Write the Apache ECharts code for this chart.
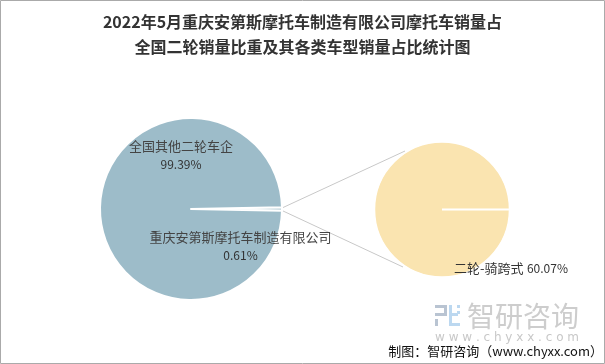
<!DOCTYPE html>
<html><head><meta charset="utf-8">
<script src="https://cdn.jsdelivr.net/npm/echarts@6/dist/echarts.min.js"></script>
<style>html,body{margin:0;padding:0;background:#fff}#c{width:605px;height:364px}</style>
</head><body><div id="c"></div>
<script>
// ---- data ----
const titleLines = ['2022年5月重庆安第斯摩托车制造有限公司摩托车销量占', '全国二轮销量比重及其各类车型销量占比统计图'];
const leftNames = ['重庆安第斯摩托车制造有限公司', '全国其他二轮车企'];
const leftValues = [0.61, 99.39];
const rightNames = ['二轮-骑跨式'];
const rightValues = [60.07];
const sourceText = '制图：智研咨询（www.chyxx.com）';
const brandText = '智研咨询';
const brandUrl = 'w w w . c h y x x . c o m';

// ---- layout ----
const LC = [191, 209], LR = 91;
const RC = [442, 209.5], RR = 67.5;
const leftColor = '#9dbcc9', rightColor = '#fae4b0';

const chart = echarts.init(document.getElementById('c'));

const leftData = leftNames.map((n, i) => ({ name: n, value: leftValues[i] }));
const rightData = rightNames.map((n, i) => ({ name: n, value: rightValues[i] }));

const labelPos = {
  '全国其他二轮车企': [181, 155],
  '重庆安第斯摩托车制造有限公司': [240.5, 246.5],
  '二轮-骑跨式': [511, 268.5]
};

chart.setOption({
  animation: false,
  title: {
    text: titleLines.join('\n'),
    left: 'center', top: 9, padding: 0,
    textStyle: { fontFamily: 'Noto Sans CJK SC', fontSize: 16, fontWeight: 'bold', color: '#333', lineHeight: 25 }
  },
  graphic: [
    { type: 'rect', shape: { x: 0.5, y: 0.5, width: 604, height: 363 }, style: { fill: 'none', stroke: '#aaa', lineWidth: 1 }, z: 100 },
    { type: 'line', shape: { x1: LC[0] + LR, y1: LC[1] - 1, x2: RC[0] - 37, y2: RC[1] - 58.5 }, style: { stroke: '#c8c8c8', lineWidth: 1 }, z: -1 },
    { type: 'line', shape: { x1: LC[0] + LR, y1: LC[1] + 1.5, x2: RC[0] - 39, y2: RC[1] + 57.5 }, style: { stroke: '#c8c8c8', lineWidth: 1 }, z: -1 },
    { type: 'line', shape: { x1: RC[0], y1: RC[1], x2: RC[0] + RR, y2: RC[1] }, style: { stroke: '#fff', lineWidth: 2 }, z: 10 },
    // watermark logo
    { type: 'group', left: 435, top: 305, z: 5, children: [
      { type: 'rect', shape: { x: 0, y: 0, width: 12, height: 3 }, style: { fill: '#b9c4d2' } },
      { type: 'rect', shape: { x: 9, y: 0, width: 3, height: 11 }, style: { fill: '#b9c4d2' } },
      { type: 'rect', shape: { x: 0, y: 8, width: 12, height: 3 }, style: { fill: '#b9c4d2' } },
      { type: 'rect', shape: { x: 0, y: 14, width: 3, height: 7 }, style: { fill: '#b9c4d2' } },
      { type: 'rect', shape: { x: 14, y: 0, width: 3, height: 21 }, style: { fill: '#bcd8f0' } },
      { type: 'rect', shape: { x: 17, y: 8, width: 6, height: 3 }, style: { fill: '#bcd8f0' } },
      { type: 'rect', shape: { x: 17, y: 18, width: 8, height: 3 }, style: { fill: '#bcd8f0' } },
      { type: 'rect', shape: { x: 22, y: 0, width: 3, height: 3 }, style: { fill: '#bcd8f0' } },
      { type: 'rect', shape: { x: 22, y: 6, width: 3, height: 3 }, style: { fill: '#bcd8f0' } }
    ]},
    { type: 'text', left: 467, top: 302, z: 5, style: { text: brandText, font: '28px "Noto Sans CJK SC"', fill: '#cdcdcd' } },
    { type: 'text', left: 435, top: 332, z: 5, style: { text: brandUrl, font: '12px "DejaVu Sans"', fill: '#c8c8c8' } },
    { type: 'text', right: 2, top: 345, z: 6, style: { text: sourceText, font: '13px "Noto Sans CJK SC"', fill: '#111' } }
  ],
  series: [
    {
      type: 'pie', center: LC, radius: LR, startAngle: 1.1, clockwise: true,
      itemStyle: { color: leftColor, borderColor: '#fff', borderWidth: 2 },
      label: {
        show: true, position: 'inside',
        formatter: '{n|{b}}\n{v|{c}%}',
        rich: {
          n: { fontFamily: 'Noto Sans CJK SC', fontSize: 13, color: '#444', lineHeight: 18, align: 'center' },
          v: { fontFamily: 'Noto Sans CJK SC', fontSize: 12, color: '#333', lineHeight: 18, align: 'center' }
        }
      },
      labelLine: { show: false },
      labelLayout: p => ({ x: labelPos[leftNames[p.dataIndex]][0], y: labelPos[leftNames[p.dataIndex]][1], align: 'center', verticalAlign: 'middle' }),
      emphasis: { disabled: true },
      data: leftData
    },
    {
      type: 'pie', center: RC, radius: RR, startAngle: 0,
      itemStyle: { color: rightColor, borderColor: '#fff', borderWidth: 1.5 },
      label: {
        show: true, position: 'inside',
        formatter: '{n|{b}} {v|{c}%}',
        rich: {
          n: { fontFamily: 'Noto Sans CJK SC', fontSize: 13, color: '#333' },
          v: { fontFamily: 'Noto Sans CJK SC', fontSize: 12, color: '#333' }
        }
      },
      labelLine: { show: false },
      labelLayout: p => ({ x: labelPos[rightNames[p.dataIndex]][0], y: labelPos[rightNames[p.dataIndex]][1], align: 'center', verticalAlign: 'middle' }),
      emphasis: { disabled: true },
      data: rightData
    }
  ]
});
</script></body></html>
